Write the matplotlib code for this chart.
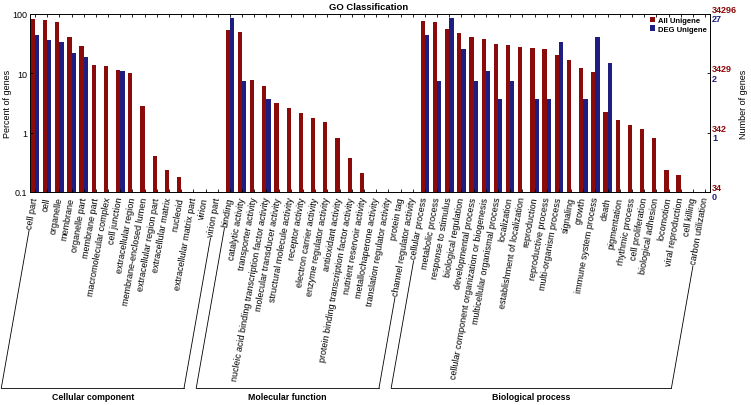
import matplotlib
matplotlib.use('Agg')
import matplotlib.pyplot as plt
import numpy as np
from matplotlib.patches import Patch
from matplotlib.lines import Line2D
from matplotlib.ticker import NullLocator

plt.rcParams['font.family'] = ['Liberation Sans', 'DejaVu Sans']

# ---------------- data ----------------
cats_cc = ['cell part', 'cell', 'organelle', 'membrane', 'organelle part', 'membrane part',
           'macromolecular complex', 'cell junction', 'extracellular region',
           'membrane-enclosed lumen', 'extracellular region part', 'extracellular matrix',
           'nucleoid', 'extracellular matrix part', 'virion', 'virion part']
all_cc = [82, 80, 72, 41, 28.4, 13.9, 13.1, 11.2, 10.1, 2.83, 0.405, 0.235, 0.179, 0, 0, 0]
deg_cc = [44.4, 37.0, 33.3, 22.2, 18.5, 0, 0, 11.1, 0, 0, 0, 0, 0, 0, 0, 0]

cats_mf = ['binding', 'catalytic activity', 'transporter activity',
           'nucleic acid binding transcription factor activity', 'molecular transducer activity',
           'structural molecule activity', 'receptor activity', 'electron carrier activity',
           'enzyme regulator activity', 'antioxidant activity',
           'protein binding transcription factor activity', 'nutrient reservoir activity',
           'metallochaperone activity', 'translation regulator activity', 'protein tag',
           'channel regulator activity']
all_mf = [54, 49.6, 7.6, 6.0, 3.22, 2.58, 2.13, 1.75, 1.54, 0.82, 0.375, 0.209, 0, 0, 0, 0]
deg_mf = [85.2, 7.4, 0, 3.7, 0, 0, 0, 0, 0, 0, 0, 0, 0, 0, 0, 0]

cats_bp = ['cellular process', 'metabolic process', 'response to stimulus',
           'biological regulation', 'developmental process',
           'cellular component organization or biogenesis', 'multicellular organismal process',
           'localization', 'establishment of localization', 'reproduction',
           'reproductive process', 'multi-organism process', 'signaling', 'growth',
           'immune system process', 'death', 'pigmentation', 'rhythmic process',
           'cell proliferation', 'biological adhesion', 'locomotion', 'viral reproduction',
           'cell killing', 'carbon utilization']
all_bp = [76, 72, 55.7, 47, 41, 37.3, 30.7, 30.3, 28, 26.3, 26, 20, 17.1, 12.2, 10.5,
          2.21, 1.64, 1.35, 1.17, 0.82, 0.238, 0.191, 0, 0]
deg_bp = [44.4, 7.4, 85.2, 25.9, 7.4, 11.1, 3.7, 7.4, 0, 3.7, 3.7, 33.3, 0, 3.7, 40.7,
          14.8, 0, 0, 0, 0, 0, 0, 0, 0]

group_names = ['Cellular component', 'Molecular function', 'Biological process']
left_ticks = [0.1, 1, 10, 100]
left_ticklabels = ['0.1', '1', '10', '100']
right_all_labels = ['34', '342', '3429', '34296']
right_deg_labels = ['0', '1', '2', '27']
legend_labels = ['All Unigene', 'DEG Unigene']

RED = '#8B0A0A'
BLUE = '#1E1E80'

cats = cats_cc + cats_mf + cats_bp
all_vals = np.array(all_cc + all_mf + all_bp, dtype=float)
deg_vals = np.array(deg_cc + deg_mf + deg_bp, dtype=float)
groups = [(0, len(cats_cc) - 1),
          (len(cats_cc), len(cats_cc) + len(cats_mf) - 1),
          (len(cats_cc) + len(cats_mf), len(cats) - 1)]

# ---------------- figure ----------------
W, H = 751, 406
fig = plt.figure(figsize=(W / 100, H / 100), dpi=100)
ax = fig.add_axes([30 / W, 1 - 193 / H, 680 / W, 178 / H])

x = np.arange(len(cats))
w = 0.35
ax.bar(x - w / 2, all_vals, w, color=RED, linewidth=0, label=legend_labels[0])
ax.bar(x + w / 2, deg_vals, w, color=BLUE, linewidth=0, label=legend_labels[1])
ax.set_yscale('log')
ax.set_ylim(0.1, 100)
ax.set_xlim(-0.41, len(cats) - 0.6)
ax.set_yticks(left_ticks)
ax.set_yticklabels(left_ticklabels)
ax.yaxis.set_minor_locator(NullLocator())
ax.set_xticks(x)
ax.set_xticklabels(cats, rotation=80, ha='right', va='center', rotation_mode='anchor',
                   fontsize=6.5)
ax.tick_params(axis='x', direction='in', length=2, top=True, pad=3.5, width=0.6)
ax.tick_params(axis='y', direction='in', length=2.5, right=True, labelsize=6.5, pad=2,
               width=0.6)
for s in ax.spines.values():
    s.set_linewidth(0.7)

# right side labels
for yv, ra, rd in zip(left_ticks, right_all_labels, right_deg_labels):
    ax.annotate(ra, xy=(1, yv), xycoords=('axes fraction', 'data'), xytext=(2, 4.5),
                textcoords='offset pixels', ha='left', va='center', color=RED,
                fontsize=6.5, fontweight='bold')
    ax.annotate(rd, xy=(1, yv), xycoords=('axes fraction', 'data'), xytext=(2, -5),
                textcoords='offset pixels', ha='left', va='center', color=BLUE,
                fontsize=6.5, fontweight='bold')

# titles / axis labels
fig.text(369 / W, 1 - 7 / H, 'GO Classification', ha='center', va='center',
         fontsize=6.8, fontweight='bold')
fig.text(8 / W, 1 - 104 / H, 'Percent of genes', rotation=90, ha='center', va='center',
         fontsize=6.5)
fig.text(743 / W, 1 - 104 / H, 'Number of genes', rotation=90, ha='center', va='center',
         fontsize=6.5)

# legend
handles = [Patch(facecolor=RED, edgecolor='none'), Patch(facecolor=BLUE, edgecolor='none')]
ax.legend(handles, legend_labels, loc='upper right', bbox_to_anchor=(0.995, 0.985),
          frameon=False, prop={'size': 5.5, 'weight': 'bold'}, handlelength=0.7,
          handleheight=0.7, handletextpad=0.3, labelspacing=0.15, borderpad=0,
          borderaxespad=0)

# group brackets
fig.canvas.draw()
renderer = fig.canvas.get_renderer()
labels = ax.get_xticklabels()
tan80 = np.tan(np.radians(80))
y_bottom = 17.0  # pixels from figure bottom
for (i0, i1), name in zip(groups, group_names):
    corners = []
    for idx in (i0, i1):
        lab = labels[idx]
        bb = lab.get_window_extent(renderer)
        ax_, ay_ = lab.get_transform().transform(lab.get_position())
        ys = bb.y0 - 1.5
        xs = ax_ + (ys - ay_) / tan80
        xb = ax_ + (y_bottom - ay_) / tan80
        fig.add_artist(Line2D([xs / W, xb / W], [ys / H, y_bottom / H], color='black',
                              lw=0.6, transform=fig.transFigure))
        corners.append(xb)
    fig.add_artist(Line2D([corners[0] / W, corners[1] / W], [y_bottom / H, y_bottom / H],
                          color='black', lw=0.6, transform=fig.transFigure))
    fig.text((corners[0] + corners[1]) / 2 / W, 8 / H, name, ha='center', va='center',
             fontsize=6.3, fontweight='bold')

fig.savefig('out.png', dpi=100)
